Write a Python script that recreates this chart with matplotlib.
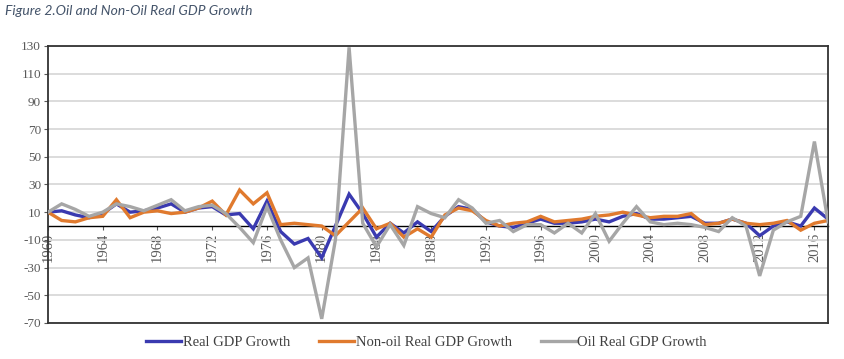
import numpy as np
import matplotlib
matplotlib.use('Agg')
import matplotlib.pyplot as plt

plt.rcParams['axes.unicode_minus'] = False

years = list(range(1960, 2018))

real_gdp = [10, 11, 8, 6, 9, 16, 10, 11, 13, 16,
            10, 13, 14, 8, 9, -2, 18, -4, -13, -9,
            -23, 0, 23, 9, -8, 2, -5, 3, -4, 7,
            14, 12, 3, 0, -1, 2, 5, 2, 2, 3,
            5, 3, 7, 9, 5, 5, 6, 7, 2, 2,
            5, 2, -7, 0, 3, 0, 13, 5]

non_oil_gdp = [10, 4, 3, 6, 7, 19, 6, 10, 11, 9,
               10, 13, 18, 8, 26, 16, 24, 1, 2, 1,
               0, -7, 3, 13, -2, 2, -8, -2, -8, 8,
               13, 11, 4, 0, 2, 3, 7, 3, 4, 5,
               7, 8, 10, 8, 6, 7, 7, 9, 1, 2,
               5, 2, 1, 2, 4, -3, 2, 4]

oil_gdp = [10, 16, 12, 7, 10, 16, 14, 11, 15, 19,
           11, 14, 15, 9, -1, -12, 14, -10, -30, -23,
           -67, -10, 129, 2, -15, 1, -14, 14, 9, 6,
           19, 13, 2, 4, -4, 1, 1, -5, 2, -5,
           9, -11, 2, 14, 3, 1, 2, 1, -1, -4,
           6, 0, -36, -3, 3, 7, 61, 3]

series_names = ['Real GDP Growth', 'Non-oil Real GDP Growth', 'Oil Real GDP Growth']
series_colors = ['#3A3AB0', '#E07A2E', '#A6A6A6']

serif = ['Liberation Serif', 'DejaVu Serif']
label_grey = '#595959'

fig = plt.figure(figsize=(8.45, 3.59), dpi=100)
ax = fig.add_axes([0.0568, 0.1003, 0.9232, 0.7717])

for vals, name, col in zip([real_gdp, non_oil_gdp, oil_gdp], series_names, series_colors):
    ax.plot(years, vals, color=col, lw=2.4, label=name, zorder=3, solid_joinstyle='miter')

ax.set_xlim(1960, 2017)
ax.set_ylim(-70, 130)
ax.set_yticks(np.arange(-70, 131, 20))
ax.set_xticks(np.arange(1960, 2017, 4))

ax.grid(axis='y', color='#D9D9D9', lw=1.3)
ax.set_axisbelow(True)

# x axis sits on the zero line, frame drawn around the whole plot
ax.spines['bottom'].set_position(('data', 0))
ax.spines['bottom'].set_color('black')
ax.spines['bottom'].set_linewidth(1.0)
ax.spines['bottom'].set_zorder(1)
for side in ['left', 'right', 'top']:
    ax.spines[side].set_color('#333333')
    ax.spines[side].set_linewidth(1.3)
ax.axhline(-70, color='#333333', lw=1.3, clip_on=False, zorder=1)

ax.tick_params(axis='x', direction='out', length=3, color=label_grey,
               labelcolor=label_grey, labelsize=10.5, rotation=90, pad=2)
ax.tick_params(axis='y', direction='out', length=3, color=label_grey,
               labelcolor=label_grey, labelsize=9.5, pad=2)
for lab in ax.get_xticklabels() + ax.get_yticklabels():
    lab.set_family(serif)

fig.text(0.006, 0.985, 'Figure 2.Oil and Non-Oil Real GDP Growth', ha='left', va='top',
         fontsize=10, style='italic', color='#44546A', family=['Lato', 'DejaVu Sans'])

fig.legend(loc='center', bbox_to_anchor=(0.505, 0.045), ncol=3, frameon=False,
           handlelength=2.4, handletextpad=0.1, columnspacing=2.0,
           prop={'family': serif, 'size': 10.5}, labelcolor='#404040')

plt.savefig('out.png', dpi=100)
plt.close()
